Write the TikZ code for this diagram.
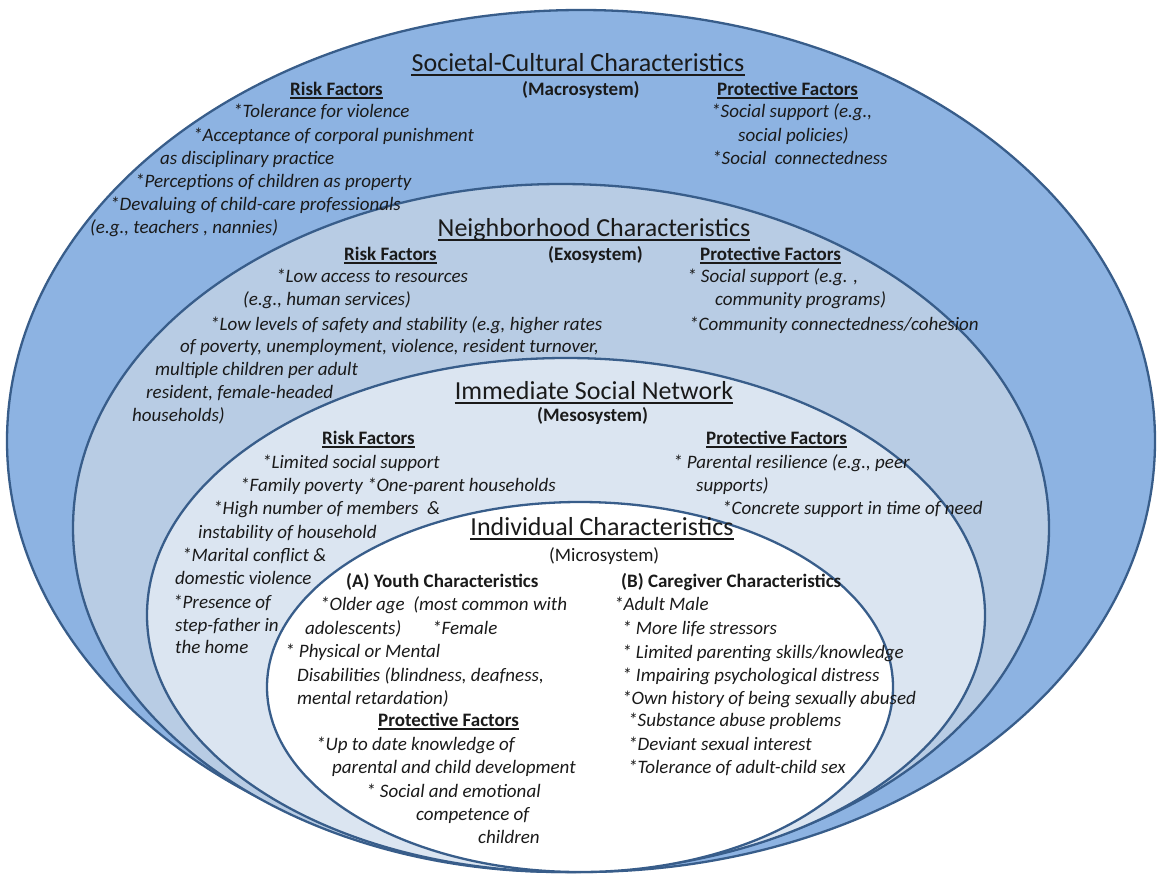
\documentclass[tikz,border=0pt]{standalone}
\usepackage{fontspec}
\setmainfont{Carlito}

\definecolor{macrofill}{HTML}{8DB3E2}
\definecolor{exofill}{HTML}{B8CCE4}
\definecolor{mesofill}{HTML}{DBE5F1}
\definecolor{microfill}{HTML}{FFFFFF}
\definecolor{rim}{HTML}{385D8A}
\definecolor{ink}{HTML}{1A1A1A}

\tikzset{
  ring/.style={draw=rim, line width=2.3pt},
  txt/.style={anchor=base west, inner sep=0pt, yshift=-5pt,
    font=\fontsize{19}{23}\selectfont\itshape, text=ink},
  head/.style={anchor=base west, inner sep=0pt, yshift=-5pt,
    font=\fontsize{19}{23}\selectfont\bfseries, text=ink},
  plainhead/.style={anchor=base west, inner sep=0pt, yshift=-5pt,
    font=\fontsize{19}{23}\selectfont, text=ink},
  uline/.style={append after command={
    ([yshift=-3pt]\tikzlastnode.base west) edge[draw=ink, line width=1.2pt]
    ([yshift=-3pt]\tikzlastnode.base east)}},
  title/.style={anchor=base, inner sep=0pt, yshift=-9pt,
    font=\fontsize{26}{30}\selectfont, text=ink,
    append after command={
    ([yshift=-4pt]\tikzlastnode.base west) edge[draw=ink, line width=1.6pt]
    ([yshift=-4pt]\tikzlastnode.base east)}},
}

% one line of italic text: name, x, y (middle of the line), text
\newcommand\bodyline[4]{\node[txt] (#1) at (#2,#3) {#4};}

\begin{document}
\begin{tikzpicture}[x=1pt, y=-1pt]
  \useasboundingbox (0,0) rectangle (1161,875);
  \fill[white] (0,0) rectangle (1161,875);

  % nested system ellipses, outermost first
  \filldraw[ring, fill=macrofill] (581,441) ellipse [x radius=574, y radius=431];
  \filldraw[ring, fill=exofill]   (561,528) ellipse [x radius=488, y radius=344];
  \filldraw[ring, fill=mesofill]  (566,615) ellipse [x radius=419, y radius=257];
  \filldraw[ring, fill=microfill] (580,687) ellipse [x radius=313, y radius=185];

  % ---- Societal-Cultural (macrosystem) ----
  \node[title] (macrotitle) at (578,62) {Societal-Cultural Characteristics};
  \node[head, uline] (macrorisk) at (290,90) {Risk Factors};
  \node[head] (macrosys) at (522,90) {(Macrosystem)};
  \node[head, uline] (macroprot) at (717,90) {Protective Factors};
  \bodyline{mr1}{233}{112}{*Tolerance for violence}
  \bodyline{mr2}{193}{136}{*Acceptance of corporal punishment}
  \bodyline{mr3}{160}{159}{as disciplinary practice}
  \bodyline{mr4}{135}{182}{*Perceptions of children as property}
  \bodyline{mr5}{110}{205}{*Devaluing of child-care professionals}
  \bodyline{mr6}{90}{228}{(e.g., teachers , nannies)}
  \bodyline{mp1}{711}{112}{*Social support (e.g.,}
  \bodyline{mp2}{738}{136}{social policies)}
  \bodyline{mp3}{712}{159}{*Social \ connectedness}

  % ---- Neighborhood (exosystem) ----
  \node[title] (exotitle) at (594,227) {Neighborhood Characteristics};
  \node[head, uline] (exorisk) at (344,255) {Risk Factors};
  \node[head] (exosys) at (548,255) {(Exosystem)};
  \node[head, uline] (exoprot) at (700,255) {Protective Factors};
  \bodyline{er1}{276}{277}{*Low access to resources}
  \bodyline{er2}{243}{300}{(e.g., human services)}
  \bodyline{er3}{210}{325}{*Low levels of safety and stability (e.g, higher rates}
  \bodyline{er4}{180}{347}{of poverty, unemployment, violence, resident turnover,}
  \bodyline{er5}{155}{370}{multiple children per adult}
  \bodyline{er6}{146}{393}{resident, female-headed}
  \bodyline{er7}{132}{416}{households)}
  \bodyline{ep1}{687}{277}{* Social support (e.g. ,}
  \bodyline{ep2}{715}{300}{community programs)}
  \bodyline{ep3}{689}{325}{*Community connectedness/cohesion}

  % ---- Immediate social network (mesosystem) ----
  \node[title] (mesotitle) at (594,390) {Immediate Social Network};
  \node[head] (mesosys) at (537,416) {(Mesosystem)};
  \node[head, uline] (mesorisk) at (322,439) {Risk Factors};
  \node[head, uline] (mesoprot) at (706,439) {Protective Factors};
  \bodyline{sr1}{262}{463}{*Limited social support}
  \bodyline{sr2}{240}{486}{*Family poverty *One-parent households}
  \bodyline{sr3}{213}{509}{*High number of members \ \&}
  \bodyline{sr4}{198}{533}{instability of household}
  \bodyline{sr5}{182}{556}{*Marital conflict \&}
  \bodyline{sr6}{175}{579}{domestic violence}
  \bodyline{sr7}{173}{603}{*Presence of}
  \bodyline{sr8}{175}{626}{step-father in}
  \bodyline{sr9}{175}{648}{the home}
  \bodyline{sp1}{673}{463}{* Parental resilience (e.g., peer}
  \bodyline{sp2}{696}{486}{supports)}
  \bodyline{sp3}{722}{509}{*Concrete support in time of need}

  % ---- Individual (microsystem) ----
  \node[title] (microtitle) at (602,526) {Individual Characteristics};
  \node[plainhead] (microsys) at (549,556) {(Microsystem)};
  \node[head] (youth) at (346,582) {(A) Youth Characteristics};
  \node[head] (carer) at (621,582) {(B) Caregiver Characteristics};
  \bodyline{y1}{320}{605}{*Older age \ (most common with}
  \bodyline{y2}{305}{629}{adolescents)}
  \bodyline{y3}{432}{629}{*Female}
  \bodyline{y4}{285}{652}{* Physical or Mental}
  \bodyline{y5}{297}{676}{Disabilities (blindness, deafness,}
  \bodyline{y6}{297}{699}{mental retardation)}
  \node[head, uline] (youthprot) at (378,721) {Protective Factors};
  \bodyline{y7}{316}{745}{*Up to date knowledge of}
  \bodyline{y8}{332}{768}{parental and child development}
  \bodyline{y9}{366}{792}{* Social and emotional}
  \bodyline{y10}{416}{815}{competence of}
  \bodyline{y11}{478}{838}{children}
  \bodyline{c1}{614}{605}{*Adult Male}
  \bodyline{c2}{622}{629}{* More life stressors}
  \bodyline{c3}{622}{653}{* Limited parenting skills/knowledge}
  \bodyline{c4}{622}{676}{* Impairing psychological distress}
  \bodyline{c5}{622}{699}{*Own history of being sexually abused}
  \bodyline{c6}{628}{721}{*Substance abuse problems}
  \bodyline{c7}{628}{745}{*Deviant sexual interest}
  \bodyline{c8}{628}{768}{*Tolerance of adult-child sex}
\end{tikzpicture}
\end{document}
